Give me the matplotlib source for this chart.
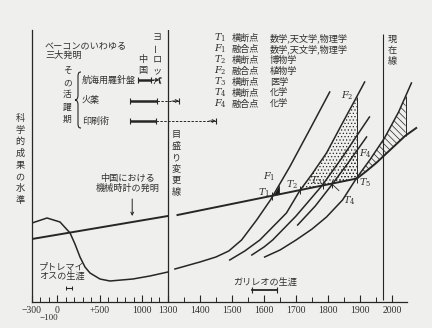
import numpy as np
import matplotlib.pyplot as plt
from matplotlib.path import Path
from matplotlib.patches import PathPatch
from matplotlib.transforms import Affine2D

plt.rcParams['font.family'] = ['Noto Sans CJK JP', 'DejaVu Sans']
plt.rcParams['mathtext.fontset'] = 'dejavuserif'
plt.rcParams['hatch.linewidth'] = 0.5

INK = '#262626'
TXT = '#303030'
PAPER = '#efefed'

# the time axis is squeezed before 1300
SPLIT = 1300
SQUEEZE = 0.265


def fwd(x):
    x = np.asarray(x, dtype=float)
    return np.where(x < SPLIT, SPLIT + (x - SPLIT) * SQUEEZE, x)


def inv(u):
    u = np.asarray(u, dtype=float)
    return np.where(u < SPLIT, SPLIT + (u - SPLIT) / SQUEEZE, u)


# level of science (arbitrary units) against year
china_old_year = [-300, 1300]
china_old_level = [63, 86]
china_year = [1330, 1890, 1920, 1950, 2000, 2040, 2075]
china_level = [87, 123.5, 131, 139, 154, 166, 174]

west_old_year = [-300, -123, 30, 148, 206, 265, 324, 383, 500, 618, 888, 1088, 1300]
west_old_level = [79, 84, 80, 69, 58, 45, 35, 29, 23, 21, 23, 26, 30]
phys_year = [1322, 1400, 1450, 1490, 1530, 1577, 1620, 1680, 1742, 1805]
phys_level = [33, 40, 45, 51, 62, 82, 102, 135, 172, 210]

bio_year = [1493, 1540, 1587, 1627, 1670, 1711, 1750, 1795, 1845, 1889, 1914]
bio_level = [42, 51, 62, 75, 89, 111, 128, 149, 179, 205, 220]
med_year = [1562, 1600, 1627, 1700, 1780, 1845, 1929]
med_level = [47, 55, 62, 86, 116, 145, 185]
chem_year = [1705, 1760, 1811, 1860, 1920]
chem_level = [77, 96, 117, 138, 165]
late_year = [1602, 1650, 1700, 1750, 1795, 1845, 1889, 1930, 1976, 2020, 2060]
late_level = [45, 52, 62, 73, 85, 102, 124, 142, 164, 190, 219]

# crossing / fusion points
t_names = ['$T_1$', '$T_2$', '$T_3$', '$T_4$', '$T_5$']
t_years = [1626, 1711, 1785, 1811, 1889]
f1_year = 1648
f_year = 1889
hatch_end = 2042

# Bacon's three inventions: China span, arrival in Europe
inv_names = ['航海用羅針盤', '火薬', '印刷術']
inv_china_from = [950, 850, 850]
inv_china_to = [1100, 1170, 1160]
inv_europe = [1200, 1335, 1450]
inv_level = [222, 201, 181]

galileo = [1564, 1642]
ptolemy = [100, 170]
clock_year = 880
present_year = 1970

legend_sym = ['$T_1$', '$F_1$', '$T_2$', '$F_2$', '$T_3$', '$T_4$', '$F_4$']
legend_kind = ['横断点', '融合点', '横断点', '融合点', '横断点', '横断点', '融合点']
legend_field = ['数学,天文学,物理学', '数学,天文学,物理学', '博物学', '植物学',
                '医学', '化学', '化学']

major_ticks = [-300, 0, 500, 1000, 1300, 1400, 1500, 1600, 1700, 1800, 1900, 2000]
major_labels = ['−300', '0', '+500', '1000', '1300', '1400', '1500', '1600',
                '1700', '1800', '1900', '2000']


def base(x):
    return np.interp(x, china_year, china_level)


fig = plt.figure(figsize=(4.32, 3.28), dpi=100, facecolor=PAPER)
ax = fig.add_axes([32 / 432, 26 / 328, 390 / 432, 272 / 328])
ax.set_facecolor('none')
ax.set_xscale('function', functions=(fwd, inv))
ax.set_xlim(-300, 2093)
ax.set_ylim(0, 272)

for s in ['top', 'right']:
    ax.spines[s].set_visible(False)
for s in ['left', 'bottom']:
    ax.spines[s].set_color(INK)
    ax.spines[s].set_linewidth(0.9)
ax.spines['bottom'].set_bounds(-300, 2045)
ax.set_yticks([])

minor = [y for y in list(range(-200, 1300, 100)) + list(range(1350, 2050, 50))
         if y not in major_ticks]
ax.set_xticks(major_ticks)
ax.set_xticklabels(major_labels, family='Liberation Serif', fontsize=7, color=TXT)
ax.set_xticks(minor, minor=True)
ax.tick_params(axis='x', which='major', direction='in', length=5, width=0.8,
               color=INK, pad=3)
ax.tick_params(axis='x', which='minor', direction='in', length=3.5, width=0.7,
               color=INK)
ax.annotate('−100', (-100, 0), xytext=(0, -11.5), textcoords='offset points',
            ha='center', va='center', family='Liberation Serif', fontsize=6.5,
            color=TXT, annotation_clip=False)

# scale change line and present line
ax.axvline(SPLIT, color=INK, lw=0.9)
ax.vlines(present_year, 2, 268, color=INK, lw=0.8)

# curves
lw = 1.1
ax.plot(china_old_year, china_old_level, color=INK, lw=1.4)
ax.plot(china_year, china_level, color=INK, lw=1.4, clip_on=False)
ax.plot(west_old_year, west_old_level, color=INK, lw=lw)
for xs, ys in [(phys_year, phys_level), (bio_year, bio_level), (med_year, med_level),
               (chem_year, chem_level), (late_year, late_level)]:
    ax.plot(xs, ys, color=INK, lw=lw, clip_on=False)

# fusion regions
xx = np.linspace(t_years[0], f1_year, 20)
ax.fill_between(xx, base(xx), np.interp(xx, phys_year, phys_level),
                color='#1a1a1a', lw=0)
xx = np.linspace(t_years[1], f_year, 60)
ax.fill_between(xx, base(xx), np.interp(xx, bio_year, bio_level),
                facecolor='none', edgecolor=INK, hatch='.....', lw=0)
xx = np.linspace(t_years[3], f_year, 40)
ax.fill_between(xx, base(xx), np.interp(xx, chem_year, chem_level),
                facecolor='none', edgecolor=INK, hatch='.....', lw=0)
xx = np.linspace(f_year, hatch_end, 60)
ax.fill_between(xx, base(xx), np.interp(xx, late_year, late_level),
                facecolor='none', edgecolor=INK, hatch='\\\\\\\\\\', lw=0)
ax.vlines(f_year, base(f_year), np.interp(f_year, bio_year, bio_level),
          color=INK, lw=0.7)
ax.vlines(hatch_end, base(hatch_end), np.interp(hatch_end, late_year, late_level),
          color=INK, lw=0.7)

t_levels = base(np.array(t_years))
ax.plot(t_years, t_levels, ls='none', marker='|', ms=6, mew=0.7, color=INK)

lab = dict(fontsize=7, color=TXT, textcoords='offset points')
ax.annotate(t_names[0], (t_years[0], t_levels[0]), xytext=(-2, 2), ha='right', va='center', **lab)
ax.annotate('$F_1$', (f1_year, np.interp(f1_year, phys_year, phys_level)),
            xytext=(-3, 6), ha='right', va='center', **lab)
ax.annotate(t_names[1], (t_years[1], t_levels[1]), xytext=(-1, 4), ha='right', va='center', **lab)
ax.annotate(t_names[2], (t_years[2], t_levels[2]), xytext=(-1, 3), ha='right', va='center', **lab)
ax.annotate(t_names[3], (t_years[3], t_levels[3]), xytext=(8, -12), ha='left', va='center',
            arrowprops=dict(arrowstyle='-', color=INK, lw=0.6, shrinkA=1, shrinkB=0), **lab)
ax.annotate(t_names[4], (t_years[4], t_levels[4]), xytext=(2, -3), ha='left', va='center', **lab)
ax.annotate('$F_2$', (f_year, np.interp(f_year, bio_year, bio_level)),
            xytext=(-2, 1), ha='right', va='center', **lab)
ax.annotate('$F_4$', (f_year, np.interp(f_year, chem_year, chem_level)),
            xytext=(2, -2), ha='left', va='center', **lab)

# inventions
for name, a, b, e, lv in zip(inv_names, inv_china_from, inv_china_to, inv_europe, inv_level):
    ax.text(289, lv, name, ha='left', va='center', fontsize=6.5, color=TXT)
    ax.plot([a, b], [lv, lv], color=INK, lw=1.8, solid_capstyle='butt')
    ax.plot([b, e], [lv, lv], color=INK, lw=0.7, ls=(0, (2.5, 1.5)))
    ax.plot([a, b, e], [lv] * 3, ls='none', marker='|', ms=4.5, mew=0.8, color=INK)
    ax.annotate('', (e, lv), xytext=(-5, 0), textcoords='offset points',
                arrowprops=dict(arrowstyle='->', color=INK, lw=0.7,
                                shrinkA=0, shrinkB=0, mutation_scale=5))

ax.text(-147, 261, 'ベーコンのいわゆる\n三大発明', ha='left', va='top', fontsize=6.6,
        color=TXT, linespacing=1.15)


def vtext(x, top, s, step=7.9, size=6.6):
    for i, ch in enumerate(s):
        ax.annotate(ch, (x, top), xytext=(0, -i * step), textcoords='offset points',
                    ha='center', va='top', fontsize=size, color=TXT,
                    rotation=90 if ch == 'ー' else 0, annotation_clip=False)


vtext(-440, 188, '科学的成果の水準', step=8.4)
vtext(1171, 269, 'ヨーロッパ')
vtext(1006, 247, '中国')
vtext(118, 236, 'その活躍期', step=8.8, size=6.3)
vtext(1325, 172, '目盛り変更線', step=8.3)
vtext(2001, 267, '現在線')

# brace grouping the three inventions, drawn in pixel units from the top-left
pix = Affine2D().scale(1 / 432, -1 / 328).translate(0, 1) + fig.transFigure
brace = Path([(81, 72), (78, 72), (78, 74), (78, 78), (78, 95),
              (78, 98), (77, 100), (75, 100),
              (77, 100), (78, 102), (78, 105), (78, 122),
              (78, 126), (78, 128), (81, 128)],
             [Path.MOVETO, Path.CURVE4, Path.CURVE4, Path.CURVE4, Path.LINETO,
              Path.CURVE4, Path.CURVE4, Path.CURVE4,
              Path.CURVE4, Path.CURVE4, Path.CURVE4, Path.LINETO,
              Path.CURVE4, Path.CURVE4, Path.CURVE4])
fig.add_artist(PathPatch(brace, transform=pix, facecolor='none', edgecolor=INK, lw=0.8))

ax.text(830, 128, '中国における\n機械時計の発明', ha='center', va='top', fontsize=6.6,
        color=TXT, linespacing=1.1)
ax.annotate('', (clock_year, 86), xytext=(clock_year, 103),
            arrowprops=dict(arrowstyle='->', color=INK, lw=0.7, shrinkA=0, shrinkB=0,
                            mutation_scale=5))

ax.text(53, 40, 'プトレマイ\nオスの生涯', ha='center', va='top', fontsize=6.6,
        color=TXT, linespacing=1.05)
ax.plot(ptolemy, [14, 14], color=INK, lw=0.8, marker='|', ms=3, mew=0.7)

ax.text(1605, 20, 'ガリレオの生涯', ha='center', va='center', fontsize=6.6, color=TXT)
ax.plot(galileo, [12, 12], color=INK, lw=1.3, marker='|', ms=4, mew=0.8)

# key
for i, (sym, kind, field) in enumerate(zip(legend_sym, legend_kind, legend_field)):
    lv = 264 - i * 11
    ax.text(1443, lv, sym, ha='left', va='center', fontsize=7, color=TXT)
    ax.text(1499, lv, kind, ha='left', va='center', fontsize=6.6, color=TXT)
    ax.text(1618, lv, field, ha='left', va='center', fontsize=6.6, color=TXT)

fig.savefig('out.png', dpi=100, facecolor=PAPER)
